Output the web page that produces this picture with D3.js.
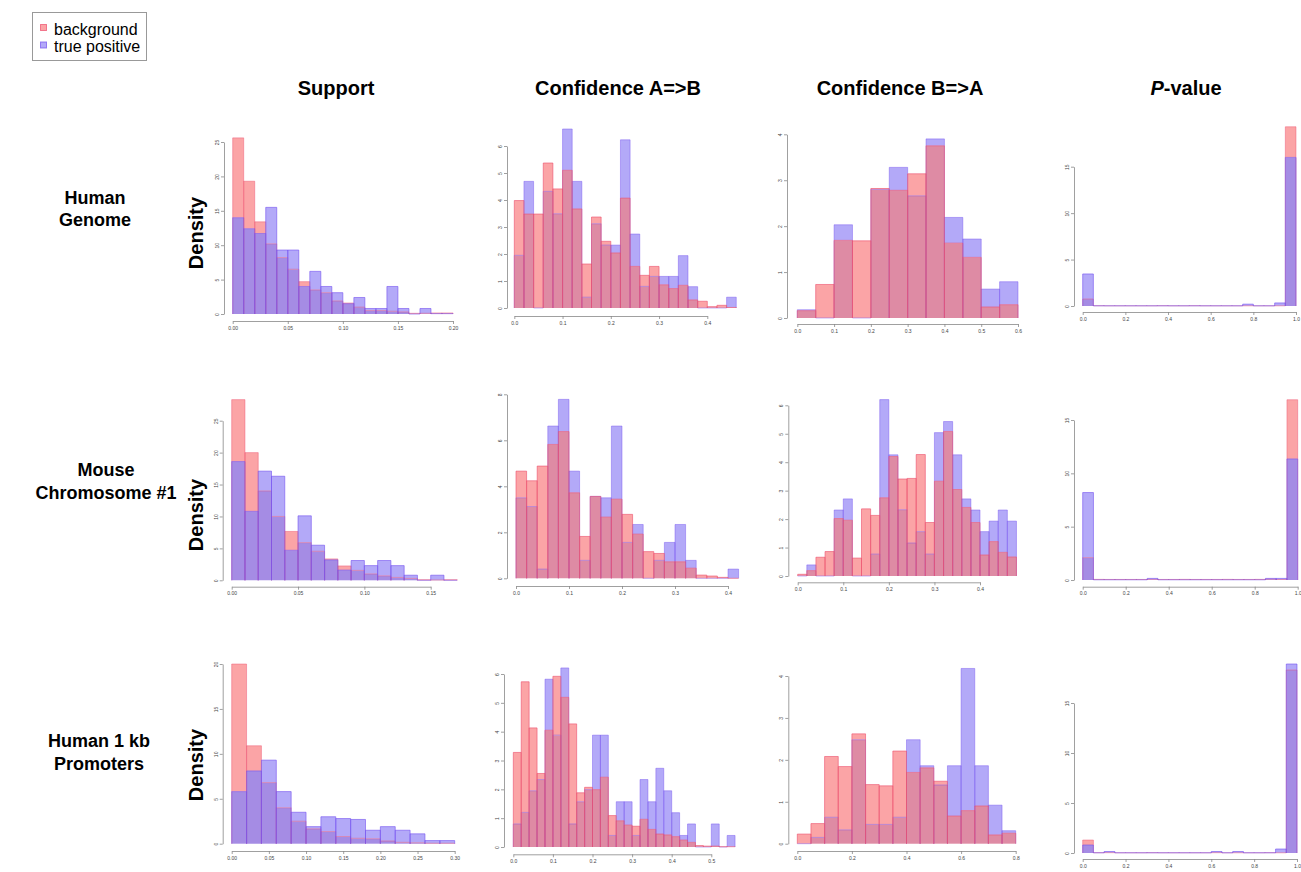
<!DOCTYPE html>
<html>
<head>
<meta charset="utf-8">
<script src="https://cdn.jsdelivr.net/npm/d3@7"></script>
<style>
  body { margin: 0; background: #fff; }
  svg { display: block; font-family: 'Liberation Sans', Arial, sans-serif; }
</style>
</head>
<body>
<script>
const colTitles = ['Support', 'Confidence A=>B', 'Confidence B=>A', 'P-value']
const rowNames = [['Human', 'Genome'], ['Mouse', 'Chromosome #1'], ['Human 1 kb', 'Promoters']]
const legendLabels = ['background', 'true positive']

const binWidths = [
  [0.01, 0.02, 0.05, 0.05],
  [0.01, 0.02, 0.02, 0.05],
  [0.02, 0.02, 0.05, 0.05],
]

// densities, one value per bin starting at 0
const supGenomeBg = [25.6, 19.3, 13.4, 10.2, 8.2, 6.5, 4.7, 3.5, 3.1, 1.9, 1.6, 1.0, 0.5, 0.5, 0.4, 0.3, 0.1, 0.1, 0.15, 0.15]
const supGenomeTp = [14.0, 12.4, 11.7, 15.5, 9.3, 9.3, 4.0, 6.2, 4.0, 3.1, 1.5, 2.4, 0.8, 0.8, 4.0, 0.8, 0, 0.8, 0.05, 0.05]
const confAbGenomeBg = [3.98, 3.48, 3.48, 5.37, 4.41, 5.10, 3.67, 1.63, 3.37, 2.47, 2.04, 4.07, 1.54, 1.21, 1.54, 0.86, 0.72, 0.84, 0.30, 0.25, 0.05, 0.10, 0.02]
const confAbGenomeTp = [1.95, 4.69, 0, 4.32, 3.49, 6.63, 4.69, 0.40, 3.12, 2.33, 2.33, 6.23, 2.74, 0.80, 1.17, 1.17, 1.17, 1.94, 0.79, 0, 0, 0, 0.40]
const confBaGenomeBg = [0.16, 0.73, 1.69, 1.68, 2.82, 2.78, 3.14, 3.75, 1.63, 1.32, 0.24, 0.29]
const confBaGenomeTp = [0.18, 0, 2.03, 0, 2.80, 3.28, 2.66, 3.90, 2.19, 1.72, 0.63, 0.79]
const pvalGenomeBg = [0.75, 0.03, 0.02, 0.02, 0.02, 0.02, 0.02, 0.03, 0.02, 0.02, 0.03, 0.02, 0.02, 0.02, 0.02, 0.02, 0.02, 0.02, 0.02, 19.3]
const pvalGenomeTp = [3.45, 0.02, 0.02, 0.02, 0.02, 0.02, 0.02, 0.02, 0.02, 0.02, 0.02, 0.02, 0.02, 0.02, 0.02, 0.2, 0.02, 0.02, 0.33, 16.0]

const supMouseBg = [28.3, 20.0, 14.0, 10.0, 7.65, 5.9, 4.55, 3.35, 2.25, 1.55, 1.0, 0.7, 0.45, 0.3, 0.1, 0.05, 0.1]
const supMouseTp = [18.6, 10.8, 17.1, 16.3, 4.7, 10.1, 5.5, 3.2, 1.6, 3.1, 2.3, 3.1, 2.3, 0.8, 0, 0.8, 0]
const confAbMouseBg = [4.66, 4.24, 4.88, 5.82, 6.38, 3.72, 1.82, 3.56, 2.66, 3.44, 2.78, 1.92, 1.16, 1.08, 0.72, 0.72, 0.44, 0.14, 0.10, 0.04, 0]
const confAbMouseTp = [3.50, 3.12, 0.40, 6.62, 7.78, 4.66, 0.78, 3.56, 3.50, 6.62, 1.56, 2.34, 0, 0.78, 1.56, 2.34, 0.78, 0, 0, 0, 0.40]
const confBaMouseBg = [0.06, 0.19, 0.66, 0.86, 2.02, 1.96, 0.63, 2.36, 2.13, 2.75, 4.20, 3.41, 3.43, 4.27, 1.88, 3.33, 5.08, 3.04, 2.41, 1.88, 0.74, 1.21, 0.83, 0.67]
const confBaMouseTp = [0, 0.39, 0, 0, 2.32, 2.71, 0, 0, 0.77, 6.20, 4.26, 2.33, 1.16, 1.56, 0.77, 5.04, 5.43, 4.26, 2.71, 2.32, 1.56, 1.93, 2.32, 1.93]
const pvalMouseBg = [2.1, 0.06, 0.05, 0.05, 0.05, 0.05, 0.06, 0.05, 0.05, 0.06, 0.05, 0.05, 0.05, 0.06, 0.05, 0.05, 0.06, 0.08, 0.05, 16.9]
const pvalMouseTp = [8.2, 0.02, 0.02, 0.02, 0.02, 0.02, 0.15, 0.02, 0.02, 0.02, 0.02, 0.02, 0.02, 0.02, 0.02, 0.02, 0.02, 0.15, 0.15, 11.35]

const supPromBg = [20.0, 10.9, 6.8, 4.0, 2.5, 1.65, 1.35, 0.8, 0.6, 0.55, 0.3, 0.15, 0.1, 0.05, 0.05]
const supPromTp = [5.8, 8.1, 9.3, 5.8, 3.5, 1.9, 3.0, 2.8, 2.7, 1.5, 1.9, 1.5, 1.1, 0.35, 0.35]
const confAbPromBg = [3.28, 5.73, 4.13, 2.55, 4.05, 5.92, 5.19, 4.27, 1.88, 2.07, 1.99, 2.42, 1.09, 0.91, 0.76, 0.72, 0.96, 0.61, 0.45, 0.42, 0.36, 0.24, 0.16, 0.05, 0.03, 0.03, 0.01, 0.01]
const confAbPromTp = [0.80, 1.20, 1.95, 2.34, 5.82, 3.88, 6.21, 0.80, 1.57, 1.99, 3.88, 3.88, 0.40, 1.57, 1.57, 0.40, 2.34, 1.57, 2.73, 1.95, 1.19, 0.40, 0.80, 0, 0, 0.80, 0, 0.40]
const confBaPromBg = [0.23, 0.48, 2.08, 1.84, 2.62, 1.41, 1.38, 2.21, 1.70, 1.81, 1.49, 0.66, 0.79, 0.90, 0.21, 0.25]
const confBaPromTp = [0, 0.15, 0.63, 0.33, 2.48, 0.46, 0.46, 0.63, 2.48, 1.86, 1.40, 1.86, 4.18, 1.86, 0.92, 0.31]
const pvalPromBg = [1.3, 0.03, 0.03, 0.02, 0.02, 0.02, 0.03, 0.02, 0.02, 0.02, 0.02, 0.02, 0.03, 0.02, 0.02, 0.02, 0.02, 0.03, 0.02, 18.3]
const pvalPromTp = [0.8, 0.02, 0.15, 0.02, 0.02, 0.02, 0.02, 0.02, 0.02, 0.02, 0.02, 0.02, 0.15, 0.02, 0.15, 0.02, 0.02, 0.02, 0.4, 18.9]

const xTicks = [
  [[0, 0.05, 0.1, 0.15, 0.2], [0, 0.1, 0.2, 0.3, 0.4], [0, 0.1, 0.2, 0.3, 0.4, 0.5, 0.6], [0, 0.2, 0.4, 0.6, 0.8, 1]],
  [[0, 0.05, 0.1, 0.15], [0, 0.1, 0.2, 0.3, 0.4], [0, 0.1, 0.2, 0.3, 0.4], [0, 0.2, 0.4, 0.6, 0.8, 1]],
  [[0, 0.05, 0.1, 0.15, 0.2, 0.25, 0.3], [0, 0.1, 0.2, 0.3, 0.4, 0.5], [0, 0.2, 0.4, 0.6, 0.8], [0, 0.2, 0.4, 0.6, 0.8, 1]],
]
const yTicks = [
  [[0, 5, 10, 15, 20, 25], [0, 1, 2, 3, 4, 5, 6], [0, 1, 2, 3, 4], [0, 5, 10, 15]],
  [[0, 5, 10, 15, 20, 25], [0, 2, 4, 6, 8], [0, 1, 2, 3, 4, 5, 6], [0, 5, 10, 15]],
  [[0, 5, 10, 15, 20], [0, 1, 2, 3, 4, 5, 6], [0, 1, 2, 3, 4], [0, 5, 10, 15]],
]

const background = [
  [supGenomeBg, confAbGenomeBg, confBaGenomeBg, pvalGenomeBg],
  [supMouseBg, confAbMouseBg, confBaMouseBg, pvalMouseBg],
  [supPromBg, confAbPromBg, confBaPromBg, pvalPromBg],
]
const truePositive = [
  [supGenomeTp, confAbGenomeTp, confBaGenomeTp, pvalGenomeTp],
  [supMouseTp, confAbMouseTp, confBaMouseTp, pvalMouseTp],
  [supPromTp, confAbPromTp, confBaPromTp, pvalPromTp],
]

// pixel frame of each panel: first/last x tick, first/last y tick, axis offsets
const layout = [
  [{ l: 232.7, r: 453, b: 314, t: 142, ax: 224, ay: 321 },
   { l: 514.3, r: 707.3, b: 308, t: 146, ax: 507, ay: 316 },
   { l: 797.3, r: 1018, b: 318, t: 134.3, ax: 787, ay: 324 },
   { l: 1082.7, r: 1296, b: 306, t: 166.7, ax: 1074, ay: 312 }],
  [{ l: 231.7, r: 430.7, b: 580.3, t: 420.7, ax: 222.7, ay: 586.7 },
   { l: 516, r: 728, b: 578.3, t: 394.3, ax: 507, ay: 586 },
   { l: 797.7, r: 980, b: 576, t: 405.3, ax: 788.3, ay: 582.3 },
   { l: 1082.7, r: 1297.7, b: 580, t: 420, ax: 1074, ay: 586.7 }],
  [{ l: 231.7, r: 454.7, b: 843.7, t: 664, ax: 222.7, ay: 851 },
   { l: 513.3, r: 711.3, b: 847, t: 674, ax: 504, ay: 854.3 },
   { l: 797.3, r: 1015.7, b: 843.7, t: 676, ax: 788.3, ay: 851 },
   { l: 1082.7, r: 1297, b: 853, t: 703, ax: 1074, ay: 859 }],
]
const blueOnTop = [true, false, false, true]
const titleX = [336, 618, 900, 1186]
const rowX = [95, 106, 99]
const rowY = [[204, 226], [476, 499], [747, 770]]
const densityY = [233, 515, 765]

const BG = { fill: '#fba4a6', stroke: '#ec4f6c' }
const TP = { fill: '#b3a9f8', stroke: '#7350f0' }
const OVERLAP_BLUE = '#a58ce4'
const OVERLAP_RED = '#de8ba4'

const svg = d3.select('body').append('svg')
  .attr('width', 1301)
  .attr('height', 872)
svg.append('rect').attr('width', 1301).attr('height', 872).attr('fill', '#fff')

const barPath = (x, y, x0, x1, v0, v1) =>
  `M${x(x0)},${y(v0)}V${y(v1)}H${x(x1)}V${y(v0)}Z`

const outlinePath = (x, y, x0, x1, v) =>
  `M${x(x0)},${y(0)}V${y(v)}H${x(x1)}V${y(0)}`

const addPanel = (row, col) => {
  const box = layout[row][col]
  const xt = xTicks[row][col]
  const yt = yTicks[row][col]
  const x = d3.scaleLinear().domain([0, xt[xt.length - 1]]).range([box.l, box.r])
  const y = d3.scaleLinear().domain([0, yt[yt.length - 1]]).range([box.b, box.t])
  const g = svg.append('g')
  const bw = binWidths[row][col]
  const bg = background[row][col]
  const tp = truePositive[row][col]
  const bins = bg.map((v, i) => ({ i, bg: v, tp: tp[i] || 0 }))

  // shared part of both histograms
  g.append('g').selectAll('path')
    .data(bins.filter(d => Math.min(d.bg, d.tp) > 0))
    .join('path')
    .attr('d', d => barPath(x, y, d.i * bw, (d.i + 1) * bw, 0, Math.min(d.bg, d.tp)))
    .attr('fill', blueOnTop[col] ? OVERLAP_BLUE : OVERLAP_RED)

  // part where only one histogram shows
  g.append('g').selectAll('path')
    .data(bins.filter(d => d.bg !== d.tp))
    .join('path')
    .attr('d', d => barPath(x, y, d.i * bw, (d.i + 1) * bw, Math.min(d.bg, d.tp), Math.max(d.bg, d.tp)))
    .attr('fill', d => d.bg > d.tp ? BG.fill : TP.fill)

  const outlines = [['bg', BG], ['tp', TP]]
  if (!blueOnTop[col]) outlines.reverse()
  outlines.forEach(([key, style], k) => g.append('g').selectAll('path')
    .data(bins)
    .join('path')
    .attr('d', d => outlinePath(x, y, d.i * bw, (d.i + 1) * bw, d[key]))
    .attr('fill', 'none')
    .attr('stroke', style.stroke)
    .attr('stroke-opacity', k === 0 ? 0.55 : 0.75)
    .attr('stroke-width', 0.8))

  const digits = col === 0 ? 2 : 1
  g.append('g')
    .attr('transform', `translate(0,${box.ay})`)
    .call(d3.axisBottom(x).tickValues(xt).tickSize(3).tickSizeOuter(0).tickPadding(2)
      .tickFormat(d => d.toFixed(digits)))
    .call(styleAxis)

  g.append('g')
    .attr('transform', `translate(${box.ax},0)`)
    .call(d3.axisLeft(y).tickValues(yt).tickSize(3).tickSizeOuter(0).tickFormat(d3.format('d')))
    .call(styleAxis)
    .call(a => a.selectAll('.tick text')
      .attr('x', 0).attr('y', -5).attr('dy', 0)
      .attr('text-anchor', 'middle')
      .attr('transform', 'rotate(-90)'))
}

const styleAxis = g => {
  g.select('.domain').attr('stroke', '#888').attr('stroke-width', 0.8)
  g.selectAll('.tick line').attr('stroke', '#888').attr('stroke-width', 0.8)
  g.selectAll('.tick text').attr('fill', '#444').style('font-size', '5px')
}

d3.range(3).forEach(r => d3.range(4).forEach(c => addPanel(r, c)))

// column titles
colTitles.forEach((t, i) => {
  const text = svg.append('text')
    .attr('x', titleX[i]).attr('y', 95)
    .attr('text-anchor', 'middle')
    .style('font-size', '20px').style('font-weight', 'bold')
  if (t === 'P-value') {
    text.append('tspan').style('font-style', 'italic').text('P')
    text.append('tspan').text('-value')
  } else {
    text.text(t)
  }
})

// row labels and Density
rowNames.forEach((lines, r) => {
  lines.forEach((line, k) => svg.append('text')
    .attr('x', rowX[r]).attr('y', rowY[r][k])
    .attr('text-anchor', 'middle')
    .style('font-size', '18px').style('font-weight', 'bold')
    .text(line))
  svg.append('text')
    .attr('transform', `translate(203,${densityY[r]}) rotate(-90)`)
    .attr('text-anchor', 'middle')
    .style('font-size', '20px').style('font-weight', 'bold')
    .text('Density')
})

// legend
const legend = svg.append('g')
legend.append('rect')
  .attr('x', 32.5).attr('y', 12.5).attr('width', 114).attr('height', 48)
  .attr('fill', '#fff').attr('stroke', '#999').attr('stroke-width', 1)
legendLabels.forEach((label, i) => {
  const style = i === 0 ? BG : TP
  legend.append('rect')
    .attr('x', 40.5).attr('y', 24.5 + i * 17.5).attr('width', 6).attr('height', 6)
    .attr('fill', style.fill).attr('stroke', style.stroke).attr('stroke-opacity', 0.7)
  legend.append('text')
    .attr('x', 54).attr('y', 34.5 + i * 17)
    .style('font-size', '16px')
    .text(label)
})
</script>
</body>
</html>
